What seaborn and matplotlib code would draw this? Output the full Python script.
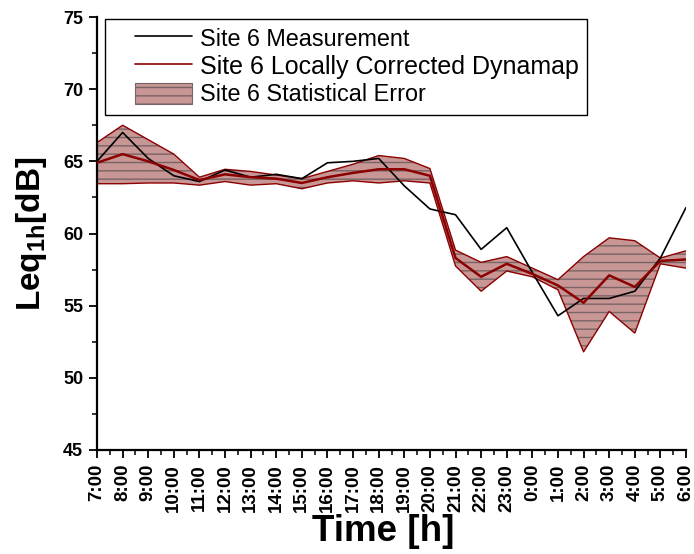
import numpy as np
import pandas as pd
import matplotlib
matplotlib.use("Agg")
import matplotlib.pyplot as plt
import seaborn as sns
from matplotlib.patches import Patch
from matplotlib.lines import Line2D
from matplotlib.ticker import MultipleLocator
from matplotlib.legend_handler import HandlerLine2D, HandlerPatch

hours = ["7:00", "8:00", "9:00", "10:00", "11:00", "12:00", "13:00", "14:00",
         "15:00", "16:00", "17:00", "18:00", "19:00", "20:00", "21:00", "22:00",
         "23:00", "0:00", "1:00", "2:00", "3:00", "4:00", "5:00", "6:00"]
measurement = [65.0, 67.0, 65.2, 64.0, 63.6, 64.4, 63.9, 64.1, 63.8, 64.9, 65.0, 65.2,
               63.3, 61.7, 61.3, 58.9, 60.4, 57.3, 54.3, 55.5, 55.5, 56.0, 58.3, 61.8]
corrected = [64.9, 65.5, 65.0, 64.4, 63.7, 64.1, 63.9, 63.8, 63.5, 63.9, 64.2, 64.45,
             64.45, 64.0, 58.3, 57.0, 57.9, 57.2, 56.4, 55.2, 57.1, 56.3, 58.1, 58.2]
err_upper = [66.3, 67.5, 66.5, 65.5, 63.9, 64.45, 64.3, 64.05, 63.8, 64.3, 64.8, 65.4,
             65.2, 64.5, 58.85, 58.0, 58.4, 57.6, 56.8, 58.4, 59.7, 59.5, 58.3, 58.8]
err_lower = [63.45, 63.45, 63.5, 63.5, 63.35, 63.6, 63.35, 63.45, 63.1, 63.5, 63.65, 63.5,
             63.65, 63.5, 57.75, 56.0, 57.4, 57.0, 56.1, 51.8, 54.6, 53.1, 57.9, 57.6]

df = pd.DataFrame({"x": np.arange(len(hours)), "meas": measurement, "corr": corrected,
                   "up": err_upper, "lo": err_lower})

sns.set_style("ticks")
plt.rcParams["font.family"] = ["Liberation Sans", "DejaVu Sans"]
plt.rcParams["mathtext.fontset"] = "custom"
plt.rcParams["mathtext.rm"] = "Liberation Sans"
plt.rcParams["mathtext.bf"] = "Liberation Sans:bold"
plt.rcParams["hatch.linewidth"] = 1.0
for k in ["text.color", "axes.labelcolor", "xtick.color", "ytick.color", "axes.edgecolor"]:
    plt.rcParams[k] = "black"

fig = plt.figure(figsize=(6.94, 5.54), dpi=100)
ax = fig.add_axes([97/694, 1-450/554, (686-97)/694, (450-17)/554])

band_face = "#c99696"
hatch_col = "#786464"
red = "#8b0000"
ax.fill_between(df["x"], df["lo"], df["up"], facecolor=band_face, edgecolor=hatch_col,
                hatch="--", linewidth=0, zorder=1)
sns.lineplot(data=df, x="x", y="up", ax=ax, color=red, linewidth=1.0, zorder=2)
sns.lineplot(data=df, x="x", y="lo", ax=ax, color=red, linewidth=1.0, zorder=2)
sns.lineplot(data=df, x="x", y="meas", ax=ax, color="black", linewidth=1.2, zorder=3)
sns.lineplot(data=df, x="x", y="corr", ax=ax, color=red, linewidth=1.8, zorder=4)

ax.set_xlim(0, len(hours) - 1)
ax.set_ylim(45, 75)
ax.set_xticks(np.arange(len(hours)))
ax.set_xticklabels(hours, rotation=90, fontsize=13.5, fontweight="bold")
ax.xaxis.set_minor_locator(MultipleLocator(0.5))
ax.yaxis.set_major_locator(MultipleLocator(5))
ax.yaxis.set_minor_locator(MultipleLocator(2.5))
for lab in ax.get_yticklabels():
    lab.set_fontsize(13)
    lab.set_fontweight("bold")
ax.tick_params(axis="both", which="major", length=6, width=1.3, direction="out", pad=4)
ax.tick_params(axis="both", which="minor", length=3.5, width=1.1, direction="out")
for s in ["top", "right"]:
    ax.spines[s].set_visible(False)
for s in ["left", "bottom"]:
    ax.spines[s].set_linewidth(1.6)

ax.set_xlabel("Time [h]", fontsize=26.5, fontweight="bold")
ax.xaxis.set_label_coords(0.4864, -0.147)
ax.set_ylabel(r"Leq$_{\mathbf{1h}}$[dB]", fontsize=24, fontweight="bold")
ax.yaxis.set_label_coords(-0.081, 0.5)

handles = [Line2D([], [], color="black", linewidth=1.2),
           Line2D([], [], color=red, linewidth=1.2),
           Patch(facecolor=band_face, edgecolor=hatch_col, hatch="--", linewidth=0.8)]
labels = ["Site 6 Measurement", "Site 6 Locally Corrected Dynamap", "Site 6 Statistical Error"]
hm = {Line2D: HandlerLine2D(xpad=0.95), Patch: HandlerPatch(xpad=0.95)}
leg = ax.legend(handles, labels, loc="upper left", bbox_to_anchor=(0.0136, 0.996),
                fontsize=16.8, frameon=True, fancybox=False, edgecolor="black",
                borderaxespad=0, handlelength=3.38, handleheight=1.05, labelspacing=0.17,
                borderpad=0.35, handletextpad=0.35, handler_map=hm)
leg.get_frame().set_linewidth(1.0)
leg.get_frame().set_alpha(1)
leg.get_texts()[1].set_fontsize(18.0)

fig.savefig("out.png", dpi=100)
